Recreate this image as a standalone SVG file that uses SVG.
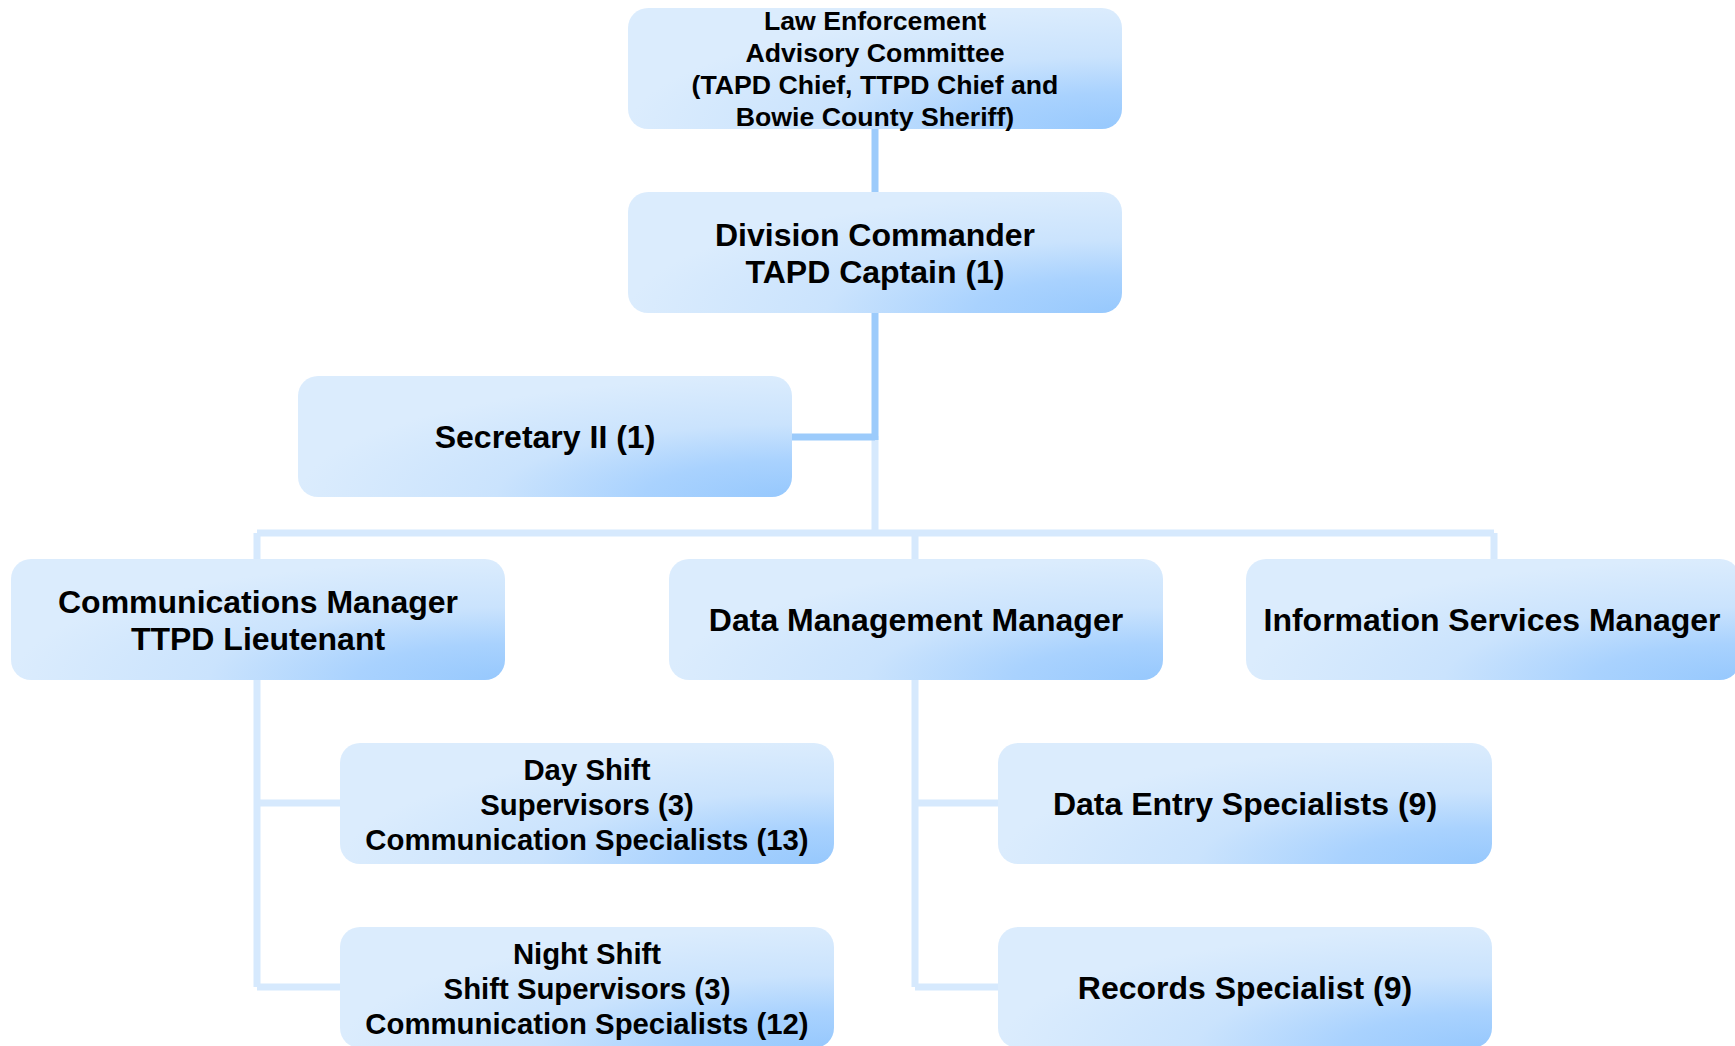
<svg xmlns="http://www.w3.org/2000/svg" width="1735" height="1046" viewBox="0 0 1735 1046">
<defs>
<radialGradient id="g" cx="1" cy="1" r="1" fx="1" fy="1">
<stop offset="0" stop-color="#96c8fd"/>
<stop offset="0.3" stop-color="#a9d2fe"/>
<stop offset="0.6" stop-color="#cae3fd"/>
<stop offset="1" stop-color="#dbecfd"/>
</radialGradient>
<style>
.box{fill:url(#g);}
.t{font-family:"Liberation Sans",Arial,sans-serif;font-weight:bold;fill:#000;text-anchor:middle;}
.f32{font-size:32px;}
.f29{font-size:29.33px;}
.f27{font-size:26.67px;}
.dk{stroke:#9ccbfb;stroke-width:7;fill:none;}
.lt{stroke:#d6e9fd;stroke-width:7;fill:none;}
</style>
</defs>
<g id="connectors">
<path class="lt" d="M875 436 V533 M257 533 H1494 M257 533 V559 M915 533 V559 M1494 533 V559"/>
<path class="lt" d="M257 680 V987 M257 803 H340 M257 987 H340"/>
<path class="lt" d="M915 680 V987 M915 803 H998 M915 987 H998"/>
<path class="dk" d="M875 129 V192 M875 313 V440 M875 437 H792"/>
</g>
<g id="lec">
<rect class="box" x="628" y="8" width="494" height="121" rx="20"/>
<text class="t f27" x="875"><tspan x="875" y="30">Law Enforcement</tspan><tspan x="875" y="62">Advisory Committee</tspan><tspan x="875" y="94">(TAPD Chief, TTPD Chief and</tspan><tspan x="875" y="126">Bowie County Sheriff)</tspan></text>
</g>
<g id="division">
<rect class="box" x="628" y="192" width="494" height="121" rx="20"/>
<text class="t f32"><tspan x="875" y="246">Division Commander</tspan><tspan x="875" y="283">TAPD Captain (1)</tspan></text>
</g>
<g id="secretary">
<rect class="box" x="298" y="376" width="494" height="121" rx="20"/>
<text class="t f32" x="545" y="448">Secretary II (1)</text>
</g>
<g id="comm">
<rect class="box" x="11" y="559" width="494" height="121" rx="20"/>
<text class="t f32"><tspan x="258" y="613">Communications Manager</tspan><tspan x="258" y="650">TTPD Lieutenant</tspan></text>
</g>
<g id="datamgmt">
<rect class="box" x="669" y="559" width="494" height="121" rx="20"/>
<text class="t f32" x="916" y="631">Data Management Manager</text>
</g>
<g id="infosvc">
<rect class="box" x="1246" y="559" width="494" height="121" rx="20"/>
<text class="t f32" x="1492" y="631">Information Services Manager</text>
</g>
<g id="dayshift">
<rect class="box" x="340" y="743" width="494" height="121" rx="20"/>
<text class="t f29"><tspan x="587" y="780">Day Shift</tspan><tspan x="587" y="815">Supervisors (3)</tspan><tspan x="587" y="850">Communication Specialists (13)</tspan></text>
</g>
<g id="nightshift">
<rect class="box" x="340" y="927" width="494" height="121" rx="20"/>
<text class="t f29"><tspan x="587" y="964">Night Shift</tspan><tspan x="587" y="999">Shift Supervisors (3)</tspan><tspan x="587" y="1034">Communication Specialists (12)</tspan></text>
</g>
<g id="dataentry">
<rect class="box" x="998" y="743" width="494" height="121" rx="20"/>
<text class="t f32" x="1245" y="815">Data Entry Specialists (9)</text>
</g>
<g id="records">
<rect class="box" x="998" y="927" width="494" height="121" rx="20"/>
<text class="t f32" x="1245" y="999">Records Specialist (9)</text>
</g>
</svg>
